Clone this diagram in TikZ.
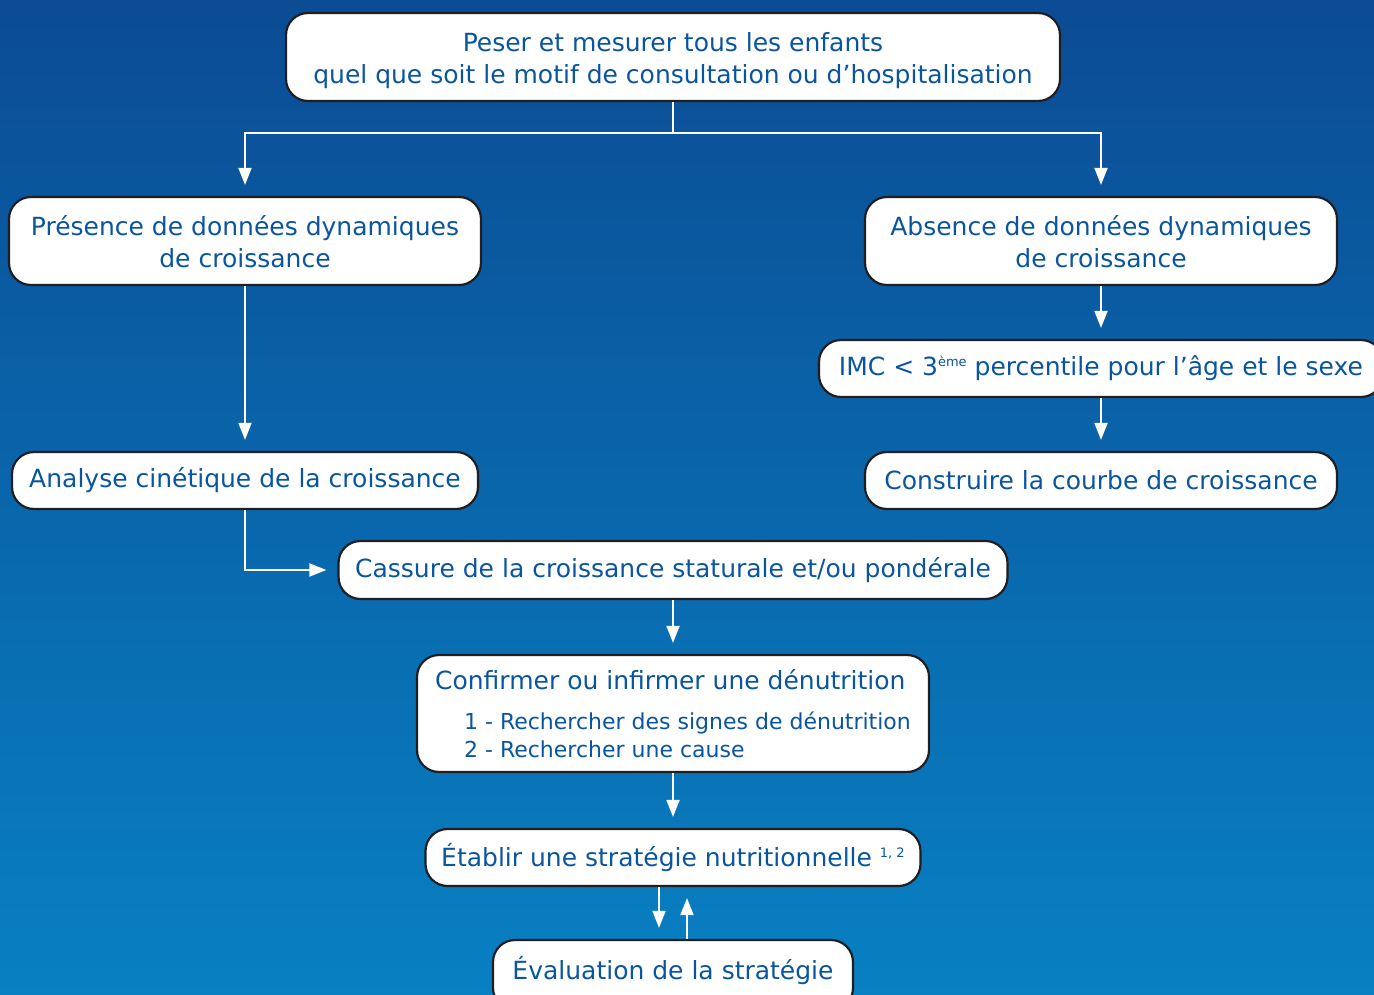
\documentclass[tikz,border=0pt]{standalone}
\usepackage{fontspec}
\setmainfont{DejaVu Sans}
\usetikzlibrary{arrows.meta,calc}
\definecolor{bgtop}{RGB}{11,76,148}
\definecolor{bgbot}{RGB}{8,128,194}
\definecolor{txt}{RGB}{10,85,160}
\definecolor{edge}{RGB}{30,30,35}
\newcommand{\supr}[1]{\raisebox{9pt}{\fontsize{13}{13}\selectfont #1}}
\tikzset{
  box/.style={draw=edge, line width=2.2pt, fill=white, rounded corners=22pt,
    text=txt, inner sep=0pt, align=center, font=\fontsize{25}{32}\selectfont},
  conn/.style={draw=white, line width=2pt},
  arr/.style={conn, -{Triangle[length=17pt,width=13pt]}, shorten >=11pt},
}
\begin{document}
\begin{tikzpicture}[x=1pt,y=-1pt]
\useasboundingbox (0,0) rectangle (1374,995);
\clip (0,0) rectangle (1374,995);
\shade[top color=bgtop, bottom color=bgbot] (0,0) rectangle (1374,995);

\node[box, minimum width=774pt, minimum height=88pt] (top) at (673,57)
  {\rule{0pt}{27pt}Peser et mesurer tous les enfants\\quel que soit le motif de consultation ou d’hospitalisation};
\node[box, minimum width=472pt, minimum height=88pt] (pres) at (245,241)
  {\rule{0pt}{21pt}Présence de données dynamiques\\de croissance};
\node[box, minimum width=472pt, minimum height=88pt] (abs) at (1101,241)
  {\rule{0pt}{21pt}Absence de données dynamiques\\de croissance};
\node[box, minimum width=564pt, minimum height=57pt] (imc) at (1101,368.5)
  {IMC < 3\supr{ème} percentile pour l’âge et le sexe};
\node[box, minimum width=466pt, minimum height=57pt] (ana) at (245,480.5)
  {Analyse cinétique de la croissance};
\node[box, minimum width=472pt, minimum height=57pt] (cons) at (1101,480.5)
  {Construire la courbe de croissance};
\node[box, minimum width=669pt, minimum height=58pt] (cass) at (673,570)
  {Cassure de la croissance staturale et/ou pondérale};
\node[box, minimum width=512pt, minimum height=117pt, align=left,
  font=\fontsize{22}{28}\selectfont] (conf) at (673,713.5)
  {{\fontsize{25}{28}\selectfont Confirmer ou infirmer une dénutrition}\\[12pt]
   \hspace*{29pt}1 - Rechercher des signes de dénutrition\\
   \hspace*{29pt}2 - Rechercher une cause};
\node[box, minimum width=495pt, minimum height=57pt] (etab) at (673,857.5)
  {Établir une stratégie nutritionnelle \supr{1, 2}};
\node[box, minimum width=360pt, minimum height=70pt, text depth=0pt] (eval) at (673,975)
  {\raisebox{14pt}{Évaluation de la stratégie}};

\coordinate (j) at (673,133);
\draw[conn] (top.south) -- (j);
\draw[arr] (j) -| (pres.north);
\draw[arr] (j) -| (abs.north);
\draw[arr] (pres.south) -- (ana.north);
\draw[arr] (abs.south) -- (imc.north);
\draw[arr] (imc.south) -- (cons.north);
\draw[arr] (ana.south) |- (cass.west);
\draw[arr] (cass.south) -- (conf.north);
\draw[arr] (conf.south) -- (etab.north);
\draw[arr] ([xshift=-14pt]etab.south) -- ([xshift=-14pt]eval.north);
\draw[arr] ([xshift=14pt]eval.north) -- ([xshift=14pt]etab.south);
\end{tikzpicture}
\end{document}
